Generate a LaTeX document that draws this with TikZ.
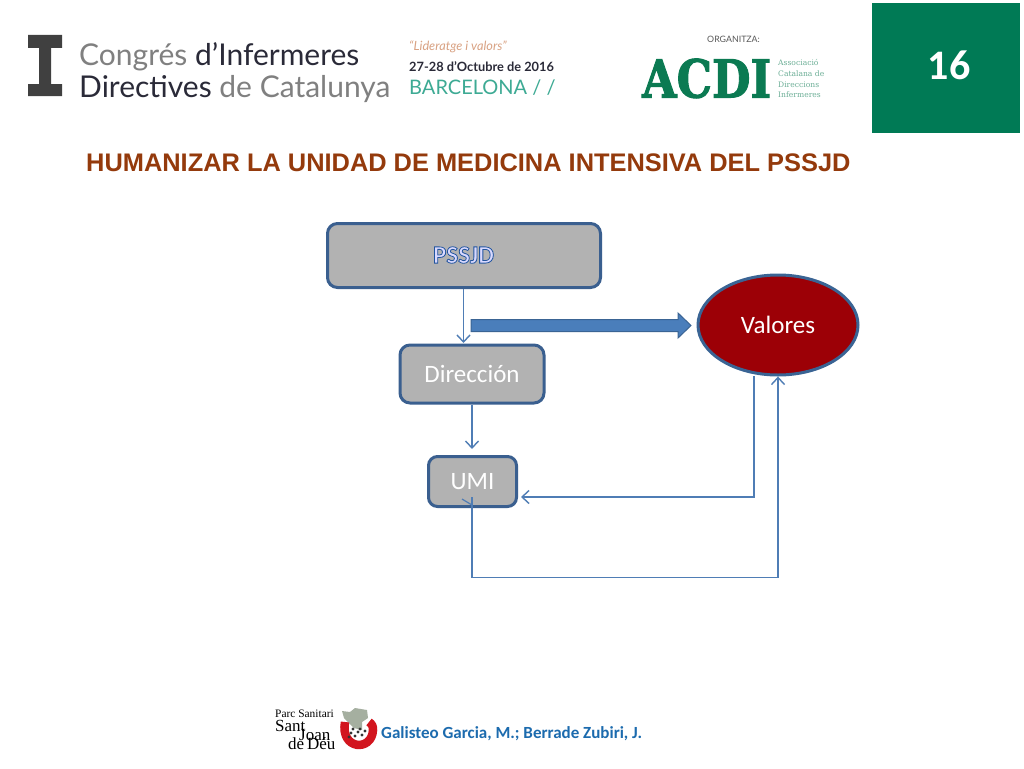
\documentclass[tikz,border=0pt]{standalone}
\usepackage{fontspec}
\setmainfont{Carlito}
\newfontfamily\arialf{Liberation Sans}
\newfontfamily\latof{Lato}
\newfontfamily\serf{DejaVu Serif}
\newfontfamily\timesf{Liberation Serif}
\usetikzlibrary{arrows.meta,shapes.geometric}
\definecolor{boxline}{HTML}{3A5F8F}
\definecolor{boxfill}{HTML}{B2B2B2}
\definecolor{thinline}{HTML}{4F7DB5}
\definecolor{fatblue}{HTML}{4A7EBB}
\definecolor{fatline}{HTML}{3A6494}
\definecolor{valred}{HTML}{9C0006}
\definecolor{slidegreen}{HTML}{007A55}
\definecolor{logogreen}{HTML}{0B7A52}
\definecolor{titlebrown}{HTML}{943A0C}
\definecolor{authorblue}{HTML}{1C6BAE}
\definecolor{congdark}{HTML}{2A2A38}
\definecolor{conggray}{HTML}{808080}
\definecolor{teal1}{HTML}{3DAA94}
\definecolor{orange1}{HTML}{D9A283}
\definecolor{ilogo}{HTML}{404040}
\definecolor{mapgray}{HTML}{A5AFA0}
\definecolor{ringred}{HTML}{D2151E}
\tikzset{
 x=1pt,y=-1pt,
 flowbox/.style={draw=boxline,line width=3pt,fill=boxfill,rounded corners=10pt,inner sep=0pt},
 flowtext/.style={font=\fontsize{25}{27}\selectfont,text=white,inner sep=0pt},
 thin conn/.style={draw=thinline,line width=1.4pt,-{Straight Barb[length=7pt,width=13pt,line width=1.4pt]}},
 plain text/.style={inner sep=0pt,anchor=base west},
}
\newcommand{\stroked}[3]{\special{pdf:code #1 RG #2 w 2 Tr}#3\special{pdf:code 0 Tr 0 0 0 RG}}
\begin{document}
\begin{tikzpicture}
\useasboundingbox (0,0) rectangle (1024,768);
\fill[white] (0,0) rectangle (1024,768);
% header left logo
\fill[ilogo] (28,35) -- (62,35) -- (62,48) -- (51,48) -- (51,84) -- (62,84) -- (62,96) -- (28,96) -- (28,84) -- (39,84) -- (39,48) -- (28,48) -- cycle;
\node[plain text,font=\latof\fontsize{30}{32}\selectfont] (cong1) at (79,66) {\textcolor{conggray}{Congrés} \textcolor{congdark}{d’Infermeres}};
\node[plain text,font=\latof\fontsize{30}{32}\selectfont] (cong2) at (79,97) {\textcolor{congdark}{Directives} \textcolor{conggray}{de Catalunya}};
\node[plain text,font=\latof\itshape\fontsize{12.7}{14}\selectfont,text=orange1] (lema) at (409,50) {“Lideratge i valors”};
\node[plain text,font=\latof\bfseries\fontsize{12.8}{14}\selectfont,text=congdark] (dates) at (409,71) {27-28 d’Octubre de 2016};
\node[plain text,font=\latof\fontsize{20}{22}\selectfont,text=teal1] (bcn) at (409,94.5) {BARCELONA / /};
% organitza
\node[plain text,font=\latof\fontsize{8.8}{10}\selectfont,text=black!65] (org) at (707,42) {ORGANITZA:};
\node[plain text,font=\serf\bfseries\fontsize{40}{42}\selectfont,text=logogreen] (acdi) at (642,97.5) {\scalebox{1.11}[1.31]{\stroked{0.043 0.478 0.322}{0.8}{ACDI}}};
\node[plain text,font=\serf\fontsize{7.6}{9}\selectfont,text=logogreen!60] (as1) at (778,66) {Associació};
\node[plain text,font=\serf\fontsize{7.6}{9}\selectfont,text=logogreen!60] (as2) at (778,76) {Catalana de};
\node[plain text,font=\serf\fontsize{7.6}{9}\selectfont,text=logogreen!60] (as3) at (778,87) {Direccions};
\node[plain text,font=\serf\fontsize{7.6}{9}\selectfont,text=logogreen!60] (as4) at (778,97) {Infermeres};
% page number
\node[fill=slidegreen,minimum width=148pt,minimum height=130pt,inner sep=0pt,anchor=north west] (pagebox) at (872,3) {};
\node[font=\bfseries\fontsize{42}{44}\selectfont,text=white,inner sep=0pt] (pagenum) at (949,65) {16};
% title
\node[plain text,font=\arialf\bfseries\fontsize{25.4}{27}\selectfont,text=titlebrown] (title) at (86,171) {HUMANIZAR LA UNIDAD DE MEDICINA INTENSIVA DEL PSSJD};
% boxes
\node[flowbox,minimum width=273pt,minimum height=64pt,anchor=north west] (pssjd) at (326,222) {};
\node[inner sep=0pt,font=\bfseries\fontsize{25}{27}\selectfont] (pssjdt) at (463.5,255) {\color{white!85!blue}\stroked{0.13 0.33 0.62}{0.8}{PSSJD}};
\node[flowbox,minimum width=144pt,minimum height=58pt,anchor=north west,flowtext] (dir) at (398.5,343.5) {Dirección};
\node[flowbox,minimum width=88pt,minimum height=50pt,anchor=north west,flowtext,rounded corners=9pt] (umi) at (427,455) {UMI};
\node[draw=fatline,line width=3pt,fill=valred,ellipse,minimum width=160pt,minimum height=100pt,inner sep=0pt,flowtext] (val) at (778,325) {Valores};
% connectors
\coordinate (p1) at (463.5,343);
\draw[thin conn] (pssjd.south -| p1) -- (p1);
\coordinate (d1) at (472,449);
\draw[thin conn] (dir.south -| d1) -- (d1);
\coordinate (vu1) at (754,497);
\coordinate (vu0) at (754,376);
\coordinate (vu2) at (521,497);
\draw[thin conn] (vu0) -- (vu1) -- (vu2);
\coordinate (uv1) at (472,577.5);
\coordinate (uv2) at (778,577.5);
\coordinate (uv0) at (472,497);
\draw[thin conn] (uv0) -- (uv1) -- (uv2) -- (val.south);
\coordinate (st1) at (462,499);
\coordinate (st2) at (472,505);
\draw[draw=thinline,line width=1.2pt] (st1) -- (st2);
% fat arrow
\draw[draw=fatline,line width=1pt,fill=fatblue] (471,319.5) -- (678,319.5) -- (678,313) -- (691,325.5) -- (678,338) -- (678,331.5) -- (471,331.5) -- cycle;
% footer logo
\node[plain text,font=\timesf\fontsize{17}{18}\selectfont] (sjd) at (275,749) {\rlap{\raisebox{32pt}{\fontsize{11.4}{12}\selectfont Parc Sanitari}}\rlap{\raisebox{18pt}{Sant}}\rlap{\hspace*{24pt}\raisebox{9pt}{Joan}}\hspace*{13pt}de\,Déu};
\fill[mapgray] (342,711) -- (350,712) -- (355,708) -- (367,710) -- (368,718) -- (362,722) -- (362,730) -- (354,728) -- (350,724) -- (344,718) -- cycle;
\draw[ringred,line width=8.5pt] (345,722) .. controls (340,750) and (372,752) .. (373,730) .. controls (373,726) and (372,724) .. (369,722);
\foreach \dx/\dy in {351/733,355/736,358/732,362/735,353/729,360/729,365/731,349/737}{
  \fill[black!80] (\dx,\dy) circle (1.6pt);
}
\node[plain text,font=\bfseries\fontsize{17}{19}\selectfont,text=authorblue] (auth) at (381,738.5) {Galisteo Garcia, M.; Berrade Zubiri, J.};
\end{tikzpicture}
\end{document}
